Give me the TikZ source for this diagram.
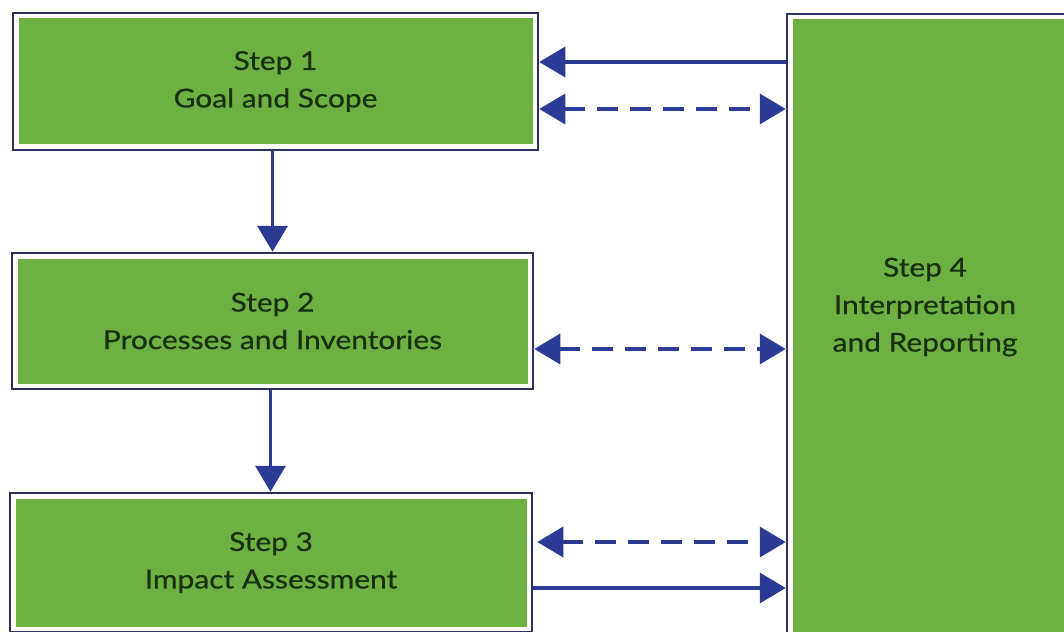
\documentclass[tikz,border=0pt]{standalone}
\usepackage{fontspec}
\setmainfont{Lato}[FakeStretch=1.15, FakeBold=0.6]
\usetikzlibrary{arrows.meta}
\definecolor{boxgreen}{HTML}{6CB142}
\definecolor{navyline}{HTML}{2E3060}
\definecolor{arrowblue}{HTML}{2B3A92}
\definecolor{txt}{HTML}{18300F}
\tikzset{
  stepbox/.style={draw=navyline, line width=2.5pt, fill=white, inner sep=0pt,
    font=\fontsize{26}{37.5}\selectfont, text=txt, align=center,
    path picture={\fill[boxgreen] ([shift={(5.5pt,-5.5pt)}]path picture bounding box.north west) rectangle ([shift={(-5.5pt,5.5pt)}]path picture bounding box.south east);}},
  labeltext/.style={font=\fontsize{26}{37.5}\selectfont, text=txt, align=center, inner sep=0pt},
  solidarr/.style={draw=arrowblue, line width=3.5pt, -{Triangle[length=26pt,width=30pt]}},
  dasharr/.style={draw=arrowblue, line width=3.5pt, dash pattern=on 21pt off 12pt, {Triangle[length=26pt,width=30pt]}-{Triangle[length=26pt,width=30pt]}},
}
\begin{document}
\begin{tikzpicture}[x=1pt,y=-1pt]
\clip (0,0) rectangle (1064,631);
\fill[white] (0,0) rectangle (1064,631);
\node[stepbox, minimum width=525pt, minimum height=137pt] (b1) at (275.5,81.5) {Step 1\\Goal and Scope};
\node[stepbox, minimum width=521pt, minimum height=136pt] (b2) at (272.5,321) {Step 2\\Processes and Inventories};
\node[stepbox, minimum width=522pt, minimum height=139pt] (b3) at (271,562.5) {Step 3\\Impact Assessment};
\node[stepbox, minimum width=290pt, minimum height=650pt] (b4) at (932,339) {};
\node[labeltext] (t4) at (925,307) {Step 4\\Interpretation\\and Reporting};
% vertical arrows
\draw[solidarr] ([xshift=-3pt]b1.south) -- ([xshift=-3pt]b1.south |- b2.north);
\draw[solidarr] ([xshift=-2pt]b2.south) -- ([xshift=-2pt]b2.south |- b3.north);
% horizontal arrows
\draw[solidarr] ([yshift=19.5pt]b1.east -| b4.west) -- ([yshift=19.5pt]b1.east);
\draw[dasharr] ([yshift=-27.5pt]b1.east) -- ([yshift=-27.5pt]b1.east -| b4.west);
\draw[dasharr] ([yshift=-28pt]b2.east) -- ([yshift=-28pt]b2.east -| b4.west);
\draw[dasharr] ([yshift=20.5pt,xshift=4pt]b3.east) -- ([yshift=20.5pt]b3.east -| b4.west);
\draw[solidarr] ([yshift=-25.5pt]b3.east) -- ([yshift=-25.5pt]b3.east -| b4.west);
\end{tikzpicture}
\end{document}
